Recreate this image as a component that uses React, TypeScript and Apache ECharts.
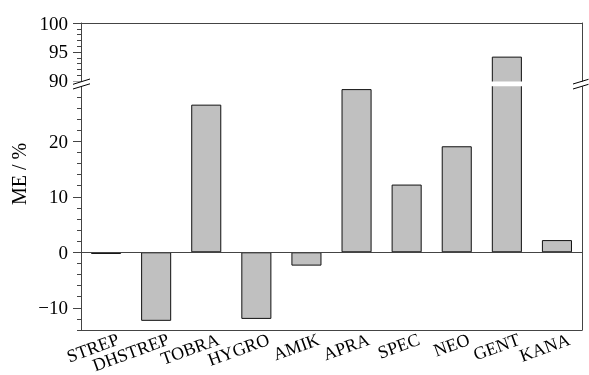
import React, { useEffect, useRef } from "react";
import * as echarts from "echarts";

const categories = ["STREP", "DHSTREP", "TOBRA", "HYGRO", "AMIK", "APRA", "SPEC", "NEO", "GENT", "KANA"];
const values = [-0.3, -12.35, 26.6, -12.0, -2.4, 29.4, 12.2, 19.1, 94.2, 2.2];
const upperMajorTicks = [90, 95, 100];
const upperMinorTicks = [91, 92, 93, 94, 96, 97, 98, 99];
const lowerMajorTicks = [-10, 0, 10, 20];
const lowerMinorTicks = [-14, -12, -8, -6, -4, -2, 2, 4, 6, 8, 12, 14, 16, 18, 22, 24, 26, 28];
const yName = "ME / %";

const FONT = "'Liberation Serif', 'Times New Roman', Times, serif";
const LINE = "#444";

export default function App() {
  const ref = useRef<HTMLDivElement>(null);
  useEffect(() => {
    if (!ref.current) return;
    const chart = echarts.init(ref.current, null, { renderer: "svg" });
    const fmt = (v: number) => (v < 0 ? "\u2212" + Math.abs(v) : String(v));
    const upperData = values.map((v) => (v > 30 ? v : "-"));
    const lowerData = values.slice();
    const breakLine = (x1: number, y1: number, x2: number, y2: number) => ({
      type: "line",
      shape: { x1, y1, x2, y2 },
      style: { stroke: "#000", lineWidth: 1 },
      z: 101,
    });
    const upMin = 89.48, upMax = 100;
    const loMin = -14, loMax = 30.5;
    const lineAxis = (gridIndex: number, min: number, max: number, position: string) => ({
      type: "value",
      gridIndex,
      position,
      min,
      max,
      axisLine: { show: true, onZero: false, lineStyle: { color: LINE, width: 1 } },
      axisTick: { show: false },
      axisLabel: { show: false },
      splitLine: { show: false },
    });
    const tickAxis = (gridIndex: number, min: number, max: number, ticks: number[]) => ({
      type: "value",
      gridIndex,
      position: "left",
      min,
      max,
      axisLine: { show: false },
      axisTick: { show: true, length: 4, customValues: ticks, lineStyle: { color: LINE } },
      axisLabel: { show: false },
      splitLine: { show: false },
    });
    const labelAxis = (gridIndex: number, min: number, max: number, ticks: number[]) => ({
      type: "value",
      gridIndex,
      min,
      max,
      axisLine: { show: true, onZero: false, lineStyle: { color: LINE, width: 1 } },
      axisTick: { show: true, length: 8, customValues: ticks, lineStyle: { color: LINE } },
      axisLabel: {
        fontFamily: FONT,
        fontSize: 19,
        color: "#000",
        margin: 13,
        customValues: ticks,
        formatter: (v: number) => fmt(v),
      },
      splitLine: { show: false },
    });
    chart.setOption({
      animation: false,
      grid: [
        { left: 81, right: 7, top: 23, height: 61, outerBoundsMode: "none", containLabel: false },
        { left: 81, right: 7, top: 83, bottom: 45, outerBoundsMode: "none", containLabel: false },
      ],
      xAxis: [
        {
          type: "category",
          gridIndex: 0,
          data: categories,
          position: "top",
          axisLine: { show: true, lineStyle: { color: LINE, width: 1 } },
          axisTick: { show: false },
          axisLabel: { show: false },
          splitLine: { show: false },
        },
        {
          type: "category",
          gridIndex: 1,
          data: categories,
          position: "bottom",
          axisLine: { show: true, onZero: false, lineStyle: { color: LINE, width: 1 } },
          axisTick: { show: false },
          axisLabel: {
            rotate: 20,
            interval: 0,
            fontFamily: FONT,
            fontSize: 18,
            color: "#000",
            margin: 13,
            padding: [0, -13, 0, 0],
          },
          splitLine: { show: false },
        },
      ],
      yAxis: [
        labelAxis(0, upMin, upMax, upperMajorTicks),
        tickAxis(0, upMin, upMax, upperMinorTicks),
        lineAxis(0, upMin, upMax, "right"),
        labelAxis(1, loMin, loMax, lowerMajorTicks),
        tickAxis(1, loMin, loMax, lowerMinorTicks),
        lineAxis(1, loMin, loMax, "right"),
      ],
      series: [
        {
          type: "bar",
          xAxisIndex: 0,
          yAxisIndex: 0,
          data: upperData,
          barWidth: "60%",
          clip: true,
          itemStyle: { color: "#c0c0c0", borderColor: "#111", borderWidth: 1 },
        },
        {
          type: "bar",
          xAxisIndex: 1,
          yAxisIndex: 3,
          data: lowerData,
          barWidth: "60%",
          clip: true,
          itemStyle: { color: "#c0c0c0", borderColor: "#111", borderWidth: 1 },
          markLine: {
            silent: true,
            symbol: "none",
            label: { show: false },
            lineStyle: { color: LINE, type: "solid", width: 1 },
            data: [{ yAxis: 0 }],
          },
        },
      ],
      graphic: [
        {
          type: "rect",
          shape: { x: 70, y: 81.6, width: 519, height: 4.6 },
          style: { fill: "#fff" },
          z: 100,
        },
        {
          type: "text",
          x: 19,
          y: 174,
          rotation: Math.PI / 2,
          style: {
            text: yName,
            fontFamily: FONT,
            fontSize: 20,
            fill: "#000",
            align: "center",
            verticalAlign: "middle",
          },
        },
        breakLine(73, 84.3, 90, 79),
        breakLine(73, 89, 90, 83.8),
        breakLine(573, 84, 588.5, 79.3),
        breakLine(573, 89, 588.5, 84.3),
      ],
    });
    return () => chart.dispose();
  }, []);
  return <div ref={ref} style={{ position: "fixed", left: 0, top: 0, width: 589, height: 375 }} />;
}
